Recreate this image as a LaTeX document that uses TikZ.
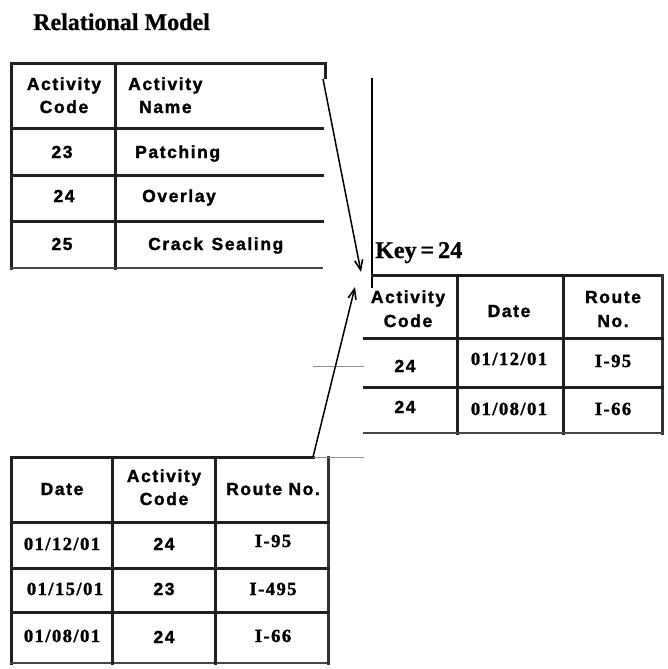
\documentclass[tikz,border=0pt]{standalone}
\usepackage{fontspec}
\setmainfont{Liberation Serif}
\newfontfamily\tsans[LetterSpace=9,FakeBold=1.6]{Liberation Sans Bold}
\newfontfamily\tser[LetterSpace=8,FakeBold=1.6]{Liberation Serif Bold}
\newfontfamily\headfont[FakeBold=0.8]{Liberation Serif Bold}
\usetikzlibrary{arrows.meta}
\begin{document}
\begin{tikzpicture}[x=1pt,y=-1pt,
  rule/.style={line width=3pt,draw=black!88,line cap=rect},
  edge/.style={line width=2.4pt,draw=black!72,line cap=rect},
  hair/.style={line width=0.9pt,draw=black!45},
  guide/.style={line width=1.3pt,draw=black},
  link/.style={line width=1.5pt,draw=black,-{Straight Barb[length=10pt,width=8pt,line width=1.6pt]}},
  cell/.style={inner sep=0pt,anchor=base,font=\tsans\fontsize{17.5}{20}\selectfont},
  cellw/.style={cell,anchor=base west},
  num/.style={inner sep=0pt,anchor=base,font=\tser\fontsize{18.5}{20}\selectfont},
  heading/.style={inner sep=0pt,anchor=base west,font=\headfont\fontsize{24}{28}\selectfont}]
\useasboundingbox (0,0) rectangle (668,669);

% title
\node[heading] (title) at (33,30) {Relational Model};

% ---- activity table ----
\draw[rule] (11,268) -- (11,64) -- (325,64) -- (325,77);
\draw[rule] (115,64) -- (115,268);
\draw[rule] (11,128) -- (322,128);
\draw[rule] (11,175) -- (322,175);
\draw[rule] (11,221) -- (322,221);
\draw[edge] (11,268) -- (322,268);

\node[cell]  (acH1) at (64,90)  {Activity};
\node[cell]  (acH2) at (64,113) {Code};
\node[cellw] (anH1) at (128,90)  {Activity};
\node[cellw] (anH2) at (139,113) {Name};
\node[cell]  (ac1) at (62,158) {23};
\node[cellw] (an1) at (135,158) {Patching};
\node[cell]  (ac2) at (64,202) {24};
\node[cellw] (an2) at (142,202) {Overlay};
\node[cell]  (ac3) at (62,250) {25};
\node[cellw] (an3) at (148,250) {Crack \kern2pt Sealing};

% ---- selected rows ----
\node[heading] (key) at (375,258) {Key\kern4pt=\kern4pt24};
\draw[guide] (372,78) -- (372,288);
\draw[rule] (372,275) -- (662,275);
\draw[rule,draw=black!80] (662,275) -- (662,433);
\draw[rule] (457,275) -- (457,433);
\draw[rule] (563,275) -- (563,433);
\draw[rule] (364,338) -- (662,338);
\draw[rule] (364,387) -- (662,387);
\draw[edge] (364,433) -- (662,433);

\node[cell] (rH1) at (408,303) {Activity};
\node[cell] (rH2) at (408,327) {Code};
\node[cell] (rH3) at (509,317) {Date};
\node[cell] (rH4) at (613,303) {Route};
\node[cell] (rH5) at (613,327) {No.};
\node[cell] (r1a) at (405,372) {24};
\node[num]  (r1b) at (509,365) {01/12/01};
\node[num]  (r1c) at (613,367) {I-95};
\node[cell] (r2a) at (405,413) {24};
\node[num]  (r2b) at (509,415) {01/08/01};
\node[num]  (r2c) at (613,415) {I-66};

% ---- work log table ----
\draw[rule] (313,457) -- (11,457) -- (11,663);
\draw[edge] (11,663) -- (328,663);
\draw[rule,draw=black!80] (328,457) -- (328,663);
\draw[rule] (112,457) -- (112,663);
\draw[rule] (215,457) -- (215,663);
\draw[rule] (11,522) -- (328,522);
\draw[rule] (11,568) -- (328,568);
\draw[rule] (11,612) -- (328,612);
\draw[hair] (313,457.5) -- (364,457.5);
\draw[hair] (313,366) -- (364,366);

\node[cell] (wH1) at (62,495) {Date};
\node[cell] (wH2) at (164,482) {Activity};
\node[cell] (wH3) at (164,505) {Code};
\node[cell] (wH4) at (273,495) {Route No.};
\node[num]  (w1a) at (62,550) {01/12/01};
\node[cell] (w1b) at (164,550) {24};
\node[num]  (w1c) at (273,547) {I-95};
\node[num]  (w2a) at (65,595) {01/15/01};
\node[cell] (w2b) at (164,595) {23};
\node[num]  (w2c) at (273,595) {I-495};
\node[num]  (w3a) at (62,642) {01/08/01};
\node[cell] (w3b) at (164,643) {24};
\node[num]  (w3c) at (273,642) {I-66};

% ---- links ----
\coordinate (lk1s) at (323,79);
\coordinate (lk1e) at (361,272);
\coordinate (lk2s) at (313,457);
\coordinate (lk2e) at (355,287);
\draw[link] (lk1s) -- (lk1e);
\draw[link] (lk2s) -- (lk2e);
\end{tikzpicture}
\end{document}
